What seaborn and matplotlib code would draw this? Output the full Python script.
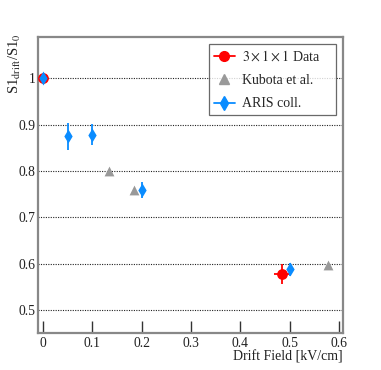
import matplotlib
matplotlib.use("Agg")
import matplotlib.pyplot as plt
from matplotlib.lines import Line2D
import seaborn as sns
import pandas as pd

# ---- data ----
data_x = [0.0, 0.485]
data_y = [1.0, 0.577]
data_xerr = [0.0, 0.016]
data_yerr = [0.0, 0.022]

kubota_x = [0.133, 0.184, 0.577]
kubota_y = [0.800, 0.758, 0.596]

aris_x = [0.0, 0.05, 0.10, 0.20, 0.50]
aris_y = [1.0, 0.875, 0.878, 0.759, 0.588]
aris_yerr = [0.0, 0.029, 0.023, 0.018, 0.014]

x_ticks = [0, 0.1, 0.2, 0.3, 0.4, 0.5, 0.6]
x_ticklabels = ["0", "0.1", "0.2", "0.3", "0.4", "0.5", "0.6"]
y_ticks = [0.5, 0.6, 0.7, 0.8, 0.9, 1.0]
y_ticklabels = ["0.5", "0.6", "0.7", "0.8", "0.9", "1"]

labels = [r"$3\times1\times1$ Data", "Kubota et al.", "ARIS coll."]

RED = "#ff0000"
GRAY = "#999999"
BLUE = "#0a8cff"

sns.set_theme(style="white")
plt.rcParams["font.family"] = ["Liberation Serif", "DejaVu Serif"]
plt.rcParams["mathtext.fontset"] = "stix"

fig = plt.figure(figsize=(3.81, 3.70), dpi=100)
ax = fig.add_axes([0.0997, 0.100, 0.8005, 0.801])

df_data = pd.DataFrame({"x": data_x, "y": data_y})
df_kub = pd.DataFrame({"x": kubota_x, "y": kubota_y})
df_aris = pd.DataFrame({"x": aris_x, "y": aris_y})

# grid lines
for yv in y_ticks:
    ax.axhline(yv, color="#222222", lw=0.8, ls=(0, (1, 1.2)), zorder=1)

# 3x1x1 data
ax.errorbar(data_x, data_y, xerr=data_xerr, yerr=data_yerr, fmt="none",
            ecolor=RED, elinewidth=1.3, capsize=0, zorder=3)
sns.scatterplot(data=df_data, x="x", y="y", ax=ax, color=RED, marker="o",
                s=60, edgecolor=RED, linewidth=0, zorder=4)

# Kubota
sns.scatterplot(data=df_kub, x="x", y="y", ax=ax, color=GRAY, marker="^",
                s=50, edgecolor=GRAY, linewidth=0, zorder=4)

# ARIS
ax.errorbar(aris_x, aris_y, yerr=aris_yerr, fmt="none",
            ecolor=BLUE, elinewidth=1.3, capsize=0, zorder=5)
sns.scatterplot(data=df_aris, x="x", y="y", ax=ax, color=BLUE, marker="d",
                s=50, edgecolor=BLUE, linewidth=0, zorder=6)

ax.set_xlim(-0.01, 0.608)
ax.set_ylim(0.45, 1.09)
ax.set_xticks(x_ticks)
ax.set_xticklabels(x_ticklabels)
ax.set_yticks(y_ticks)
ax.set_yticklabels(y_ticklabels)
ax.tick_params(axis="x", bottom=True, direction="in", length=9, width=1.0,
               color="#333333", labelsize=9.8, labelcolor="#222222", pad=3)
ax.tick_params(axis="y", left=True, direction="in", length=0,
               labelsize=9.8, labelcolor="#222222", pad=2)

for s in ax.spines.values():
    s.set_color("#888888")
    s.set_linewidth(1.6)

ax.set_xlabel("Drift Field [kV/cm]", loc="right", fontsize=10, color="#222222", labelpad=0)
ax.set_ylabel(r"S1$_{\rm drift}$/S1$_0$", loc="top", fontsize=10.5, color="#222222")
ax.yaxis.set_label_coords(-0.05, 1.01)

handles = [
    Line2D([0], [0], color=RED, lw=1.3, marker="o", markersize=7),
    Line2D([0], [0], color=GRAY, lw=0, marker="^", markersize=6.5),
    Line2D([0], [0], color=BLUE, lw=1.3, marker="d", markersize=7),
]
leg = ax.legend(handles, labels, loc="upper left", mode="expand",
                bbox_to_anchor=(0.561, 0.0, 0.416, 0.975),
                borderaxespad=0, fontsize=10, frameon=True, fancybox=False,
                borderpad=0.35, handlelength=1.5, labelspacing=0.75,
                handletextpad=0.55)
leg.get_frame().set_edgecolor("#444444")
leg.get_frame().set_linewidth(0.9)

fig.savefig("out.png", dpi=100, facecolor="white")
